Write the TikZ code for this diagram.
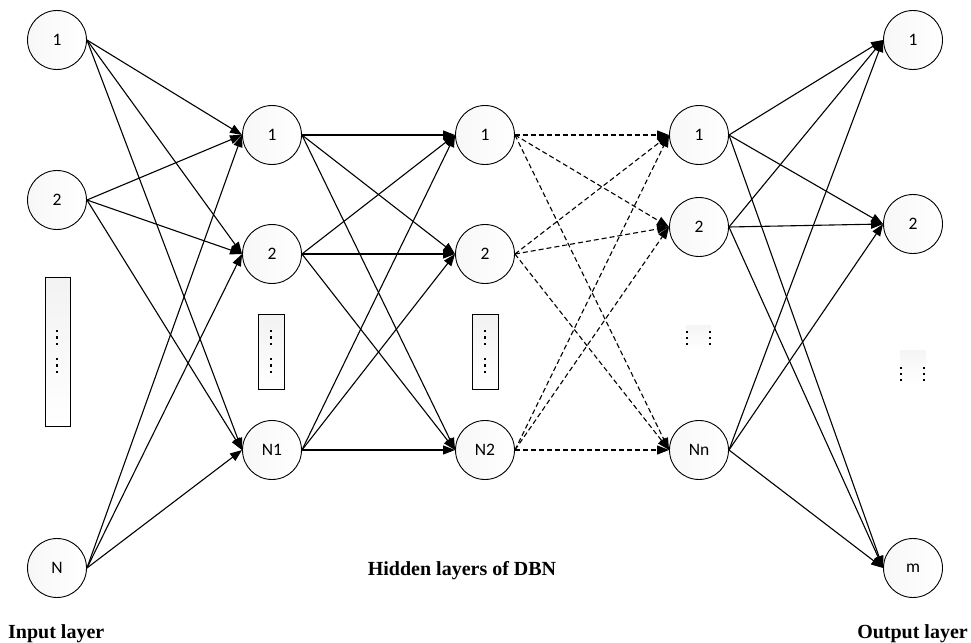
\documentclass[tikz,border=0pt]{standalone}
\usepackage{fontspec}
\setmainfont{Liberation Serif}
\newfontfamily\nodefont{Carlito}
\usetikzlibrary{arrows.meta}
\begin{document}
\begin{tikzpicture}[x=1pt,y=-1pt,
  neuron/.style={circle,draw,line width=0.9pt,minimum size=59pt,inner sep=0pt,
    left color=gray!6,right color=white,font=\nodefont\fontsize{17.5}{18}\selectfont},
  edge/.style={line width=1.1pt,-{Triangle[length=12pt,width=9pt]}},
  dedge/.style={edge,dash pattern=on 5pt off 3pt},
  dotbox/.style={draw,line width=0.8pt,top color=gray!10,bottom color=white},
  dot/.style={fill=black},
  lbl/.style={font=\bfseries\fontsize{20}{20}\selectfont,inner sep=0pt}]
\useasboundingbox (0,0) rectangle (971,642);
% boxes
\draw[dotbox] (45,277) rectangle (70,426);
\draw[dotbox] (258,314) rectangle (284,389);
\draw[dotbox] (472,314) rectangle (498,389);
\fill[top color=gray!8,bottom color=white] (686,325) rectangle (711,350);
\fill[top color=gray!8,bottom color=white] (900,350) rectangle (926,385);
% dots
\foreach \x in {57,271,485}{
  \foreach \y in {331,337.5,344,359,365.5,372}{
    \fill[dot] (\x-1.3,\y-1.3) rectangle (\x+1.3,\y+1.3);}}
\foreach \x in {687,710}{
  \foreach \y in {332,338,344}{
    \fill[dot] (\x-1.3,\y-1.3) rectangle (\x+1.3,\y+1.3);}}
\foreach \x in {901,924}{
  \foreach \y in {368,374,380}{
    \fill[dot] (\x-1.3,\y-1.3) rectangle (\x+1.3,\y+1.3);}}
% neurons
\node[neuron] (in1) at (57,40) {1};
\node[neuron] (in2) at (57,200) {2};
\node[neuron] (inN) at (57,568) {N};
\node[neuron] (h1a) at (272,135) {1};
\node[neuron] (h1b) at (272,254) {2};
\node[neuron] (h1n) at (272,450) {N1};
\node[neuron] (h2a) at (485,135) {1};
\node[neuron] (h2b) at (485,254) {2};
\node[neuron] (h2n) at (485,450) {N2};
\node[neuron] (h3a) at (699,135) {1};
\node[neuron] (h3b) at (699,227) {2};
\node[neuron] (h3n) at (699,450) {Nn};
\node[neuron] (o1) at (913,40) {1};
\node[neuron] (o2) at (913,224) {2};
\node[neuron] (om) at (913,568) {m};
% edges
\foreach \s in {in1,in2,inN}{\foreach \t in {h1a,h1b,h1n}{\draw[edge] (\s.east) -- (\t.west);}}
\foreach \s in {h1a,h1b,h1n}{\foreach \t in {h2a,h2b,h2n}{\draw[edge] (\s.east) -- (\t.west);}}
\foreach \s in {h2a,h2b,h2n}{\foreach \t in {h3a,h3b,h3n}{\draw[dedge] (\s.east) -- (\t.west);}}
\foreach \s in {h3a,h3b,h3n}{\foreach \t in {o1,o2,om}{\draw[edge] (\s.east) -- (\t.west);}}
% labels
\node[lbl,anchor=base] (hid) at (462,575) {Hidden layers of DBN};
\node[lbl,anchor=base west] (inl) at (8,638) {Input layer};
\node[lbl,anchor=base east] (outl) at (968,638) {Output layer};
\end{tikzpicture}
\end{document}
